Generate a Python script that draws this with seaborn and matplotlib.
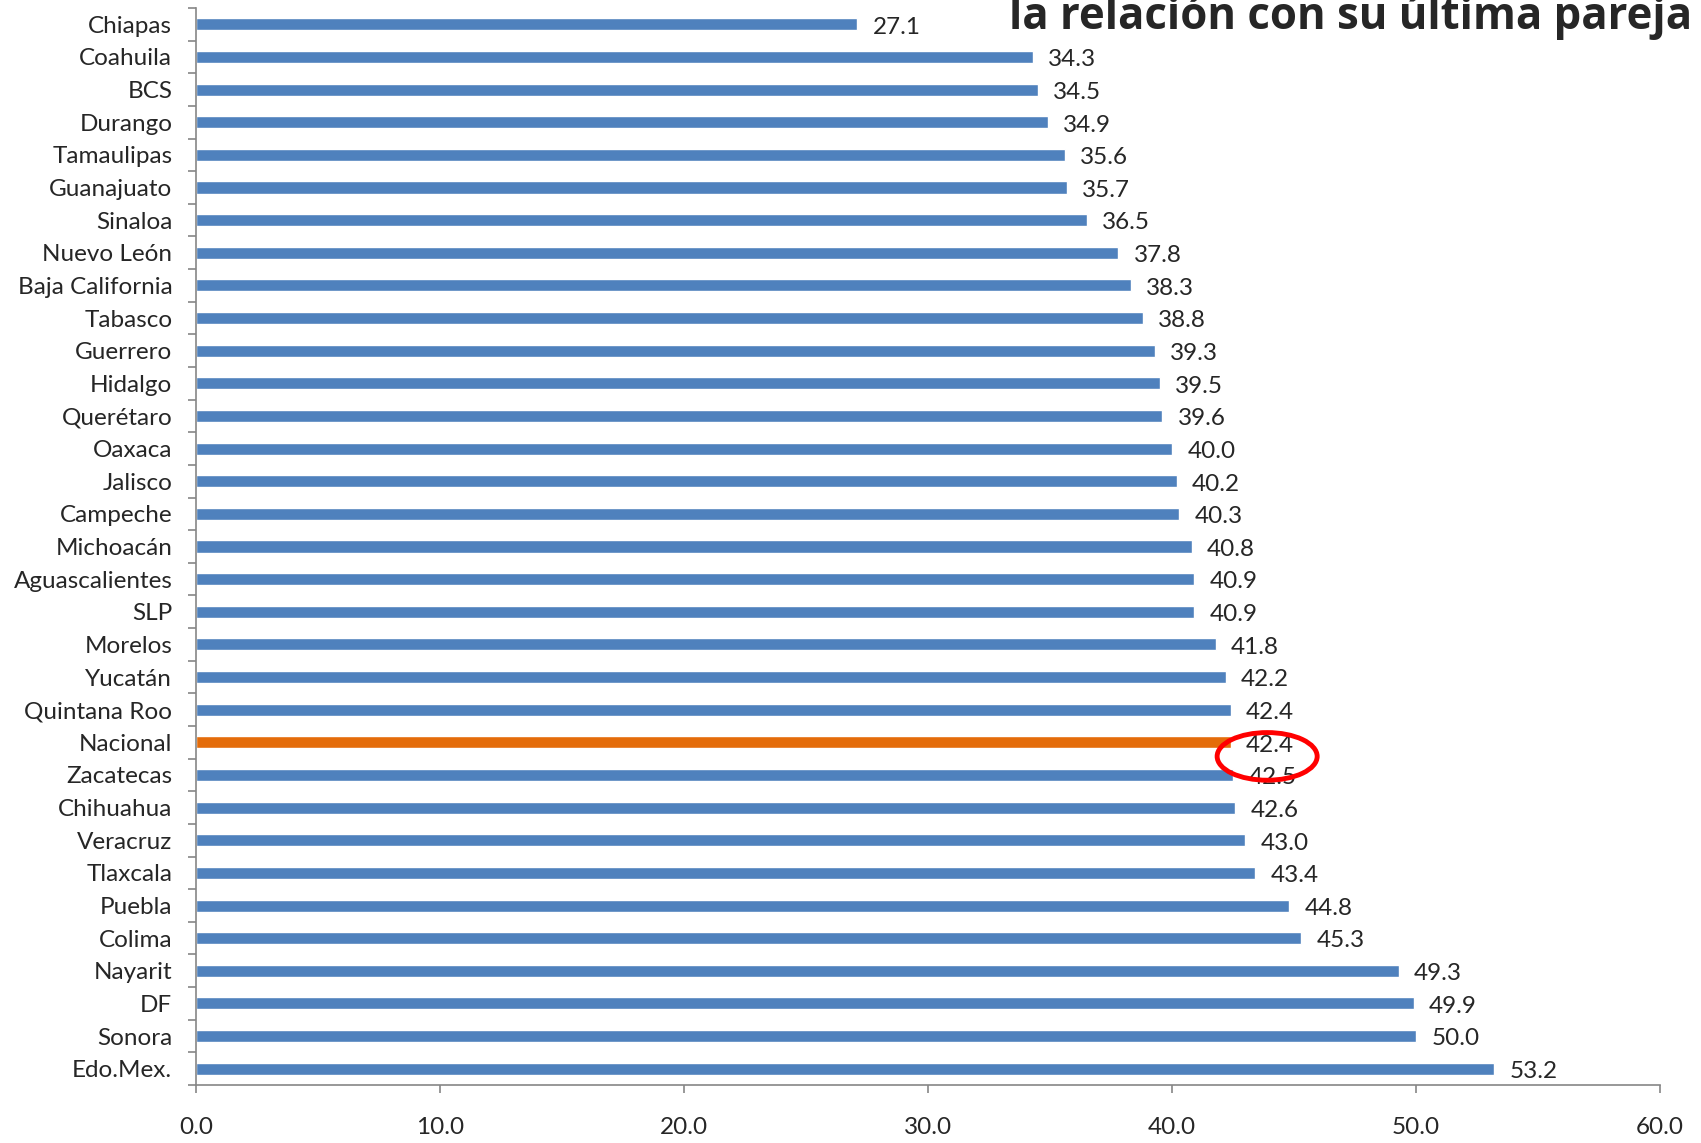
import matplotlib
import matplotlib.pyplot as plt
import pandas as pd
import seaborn as sns
from matplotlib.patches import Ellipse
from matplotlib.ticker import FixedLocator

states = [
    "Chiapas", "Coahuila", "BCS", "Durango", "Tamaulipas", "Guanajuato",
    "Sinaloa", "Nuevo León", "Baja California", "Tabasco", "Guerrero",
    "Hidalgo", "Querétaro", "Oaxaca", "Jalisco", "Campeche", "Michoacán",
    "Aguascalientes", "SLP", "Morelos", "Yucatán", "Quintana Roo",
    "Nacional", "Zacatecas", "Chihuahua", "Veracruz", "Tlaxcala", "Puebla",
    "Colima", "Nayarit", "DF", "Sonora", "Edo.Mex.",
]
values = [
    27.1, 34.3, 34.5, 34.9, 35.6, 35.7, 36.5, 37.8, 38.3, 38.8, 39.3,
    39.5, 39.6, 40.0, 40.2, 40.3, 40.8, 40.9, 40.9, 41.8, 42.2, 42.4,
    42.4, 42.5, 42.6, 43.0, 43.4, 44.8, 45.3, 49.3, 49.9, 50.0, 53.2,
]
highlight = "Nacional"
title = "la relación con su última pareja"
x_ticks = [0, 10, 20, 30, 40, 50, 60]

sns.set_style("white")
plt.rcParams["font.family"] = ["Lato", "DejaVu Sans"]

data = pd.DataFrame({"state": states, "value": values})
data["group"] = ["nac" if s == highlight else "est" for s in states]

fig = plt.figure(figsize=(17.01, 11.43), dpi=100)
ax = fig.add_axes([0.1152, 0.0507, 0.8607, 0.9423])
sns.barplot(
    data,
    x="value",
    y="state",
    hue="group",
    palette={"est": "#4F81BD", "nac": "#E46C0A"},
    saturation=1,
    dodge=False,
    width=0.37,
    legend=False,
    ax=ax,
)
for c in ax.containers:
    labels = ax.bar_label(c, fmt="{:.1f}", padding=11, fontsize=17.5)
    for t in labels:
        t.xyann = (11, -2)

ax.set(xlabel="", ylabel="", xlim=(0, 60), ylim=(len(states) - 0.5, -0.5))
ax.set_xticks(x_ticks)
ax.set_xticklabels([f"{t:.1f}" for t in x_ticks])
ax.yaxis.set_minor_locator(FixedLocator([i - 0.5 for i in range(len(states) + 1)]))
ax.tick_params(axis="y", which="major", length=0, pad=17, labelsize=17.5)
ax.tick_params(axis="y", which="minor", left=True, length=6, width=1.2, color="#868686")
ax.tick_params(axis="x", bottom=True, length=6, width=1.2, color="#868686", pad=17, labelsize=17.5)
sns.despine(ax=ax)
for side in ["left", "bottom"]:
    ax.spines[side].set_color("#868686")
    ax.spines[side].set_linewidth(1.2)

# red ring around the national value
ring = Ellipse((43.9, 22.43), 4.1, 1.46, fill=False, edgecolor="#FF0000",
               linewidth=3.5, clip_on=False, zorder=5)
ax.add_patch(ring)

fig.text(0.9947, 0.9745, title, ha="right", va="baseline",
         fontsize=31.5, fontweight="bold", family=["Open Sans", "DejaVu Sans"])

plt.savefig("out.png", dpi=100)
